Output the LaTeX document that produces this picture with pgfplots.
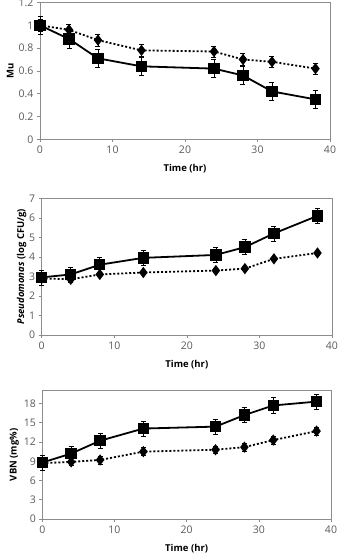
\documentclass[border=0pt]{standalone}
\usepackage{pgfplots}
\pgfplotsset{compat=1.18}
\usepackage{fontspec}
\setmainfont{Open Sans}
\definecolor{tickgray}{HTML}{595959}
\definecolor{framegray}{HTML}{8C8C8C}
\pgfplotsset{
  myax/.style={
    scale only axis, anchor=south west,
    xmin=0, xmax=40, xtick={0,10,20,30,40},
    axis line style={framegray, line width=0.6pt},
    tick style={framegray, line width=0.6pt},
    tick align=outside, major tick length=3pt,
    xtick pos=bottom, ytick pos=left,
    ticklabel style={font=\fontsize{10.5}{12}\selectfont, text=tickgray},
    /pgf/number format/assume math mode=true,
    label style={font=\fontsize{9.5}{11}\selectfont\bfseries},
    xlabel={Time (hr)},
    xlabel style={yshift=-4pt},
    clip=false,
  },
  solidser/.style={black, line width=1.8pt, mark=square*, mark size=4.8pt,
    error bars/.cd, y dir=both, y explicit,
    error bar style={black, line width=0.6pt},
    error mark options={rotate=90, mark size=2.5pt, line width=0.6pt, black}},
  dotser/.style={black, line width=1.8pt, dash pattern=on 2pt off 2pt, mark=diamond*, mark size=4.2pt,
    mark options={solid},
    error bars/.cd, y dir=both, y explicit,
    error bar style={black, line width=0.6pt, solid},
    error mark options={rotate=90, mark size=2.5pt, line width=0.6pt, black, solid}},
}
\begin{document}
\begin{tikzpicture}
\path[use as bounding box] (0,0) rectangle (341pt,555pt);
% Plot 1
\begin{axis}[myax, at={(40pt,415.7pt)}, width=290pt, height=136.8pt,
  ymin=0, ymax=1.2, ytick={0,0.2,0.4,0.6,0.8,1,1.2},
  yticklabel style={/pgf/number format/fixed},
  ylabel={Mu}, ylabel style={yshift=-2pt}]
\addplot[dotser] coordinates {
 (0,1.00) +- (0,0.05)
 (4,0.96) +- (0,0.05)
 (8,0.87) +- (0,0.05)
 (14,0.78) +- (0,0.05)
 (24,0.77) +- (0,0.05)
 (28,0.70) +- (0,0.05)
 (32,0.68) +- (0,0.05)
 (38,0.62) +- (0,0.05)};
\addplot[solidser] coordinates {
 (0,1.00) +- (0,0.08)
 (4,0.88) +- (0,0.08)
 (8,0.71) +- (0,0.08)
 (14,0.64) +- (0,0.08)
 (24,0.62) +- (0,0.08)
 (28,0.56) +- (0,0.08)
 (32,0.42) +- (0,0.08)
 (38,0.35) +- (0,0.08)};
\end{axis}
% Plot 2
\begin{axis}[myax, at={(41.7pt,220pt)}, width=290.3pt, height=136.7pt,
  ymin=0, ymax=7, ytick={0,1,...,7},
  ylabel={\textit{Pseudomonas} (log CFU/g)}, ylabel style={yshift=-4pt}]
\addplot[dotser] coordinates {
 (0,2.90) +- (0,0.1)
 (4,2.85) +- (0,0.1)
 (8,3.10) +- (0,0.1)
 (14,3.20) +- (0,0.1)
 (24,3.30) +- (0,0.1)
 (28,3.40) +- (0,0.1)
 (32,3.90) +- (0,0.1)
 (38,4.20) +- (0,0.1)};
\addplot[solidser] coordinates {
 (0,2.95) +- (0,0.38)
 (4,3.10) +- (0,0.38)
 (8,3.60) +- (0,0.38)
 (14,3.95) +- (0,0.38)
 (24,4.10) +- (0,0.38)
 (28,4.50) +- (0,0.38)
 (32,5.20) +- (0,0.38)
 (38,6.10) +- (0,0.38)};
\end{axis}
% Plot 3
\begin{axis}[myax, at={(42.3pt,36pt)}, width=288.7pt, height=128.3pt,
  ymin=0, ymax=20, ytick={0,3,...,18},
  ylabel={VBN (mg\%)}, ylabel style={yshift=-2pt}]
\addplot[dotser] coordinates {
 (0,8.7) +- (0,0.6)
 (4,8.9) +- (0,0.6)
 (8,9.2) +- (0,0.6)
 (14,10.5) +- (0,0.6)
 (24,10.8) +- (0,0.6)
 (28,11.2) +- (0,0.6)
 (32,12.3) +- (0,0.6)
 (38,13.7) +- (0,0.6)};
\addplot[solidser] coordinates {
 (0,8.8) +- (0,1.2)
 (4,10.2) +- (0,1.2)
 (8,12.2) +- (0,1.2)
 (14,14.1) +- (0,1.2)
 (24,14.4) +- (0,1.2)
 (28,16.2) +- (0,1.2)
 (32,17.7) +- (0,1.2)
 (38,18.3) +- (0,1.2)};
\end{axis}
\end{tikzpicture}
\end{document}
